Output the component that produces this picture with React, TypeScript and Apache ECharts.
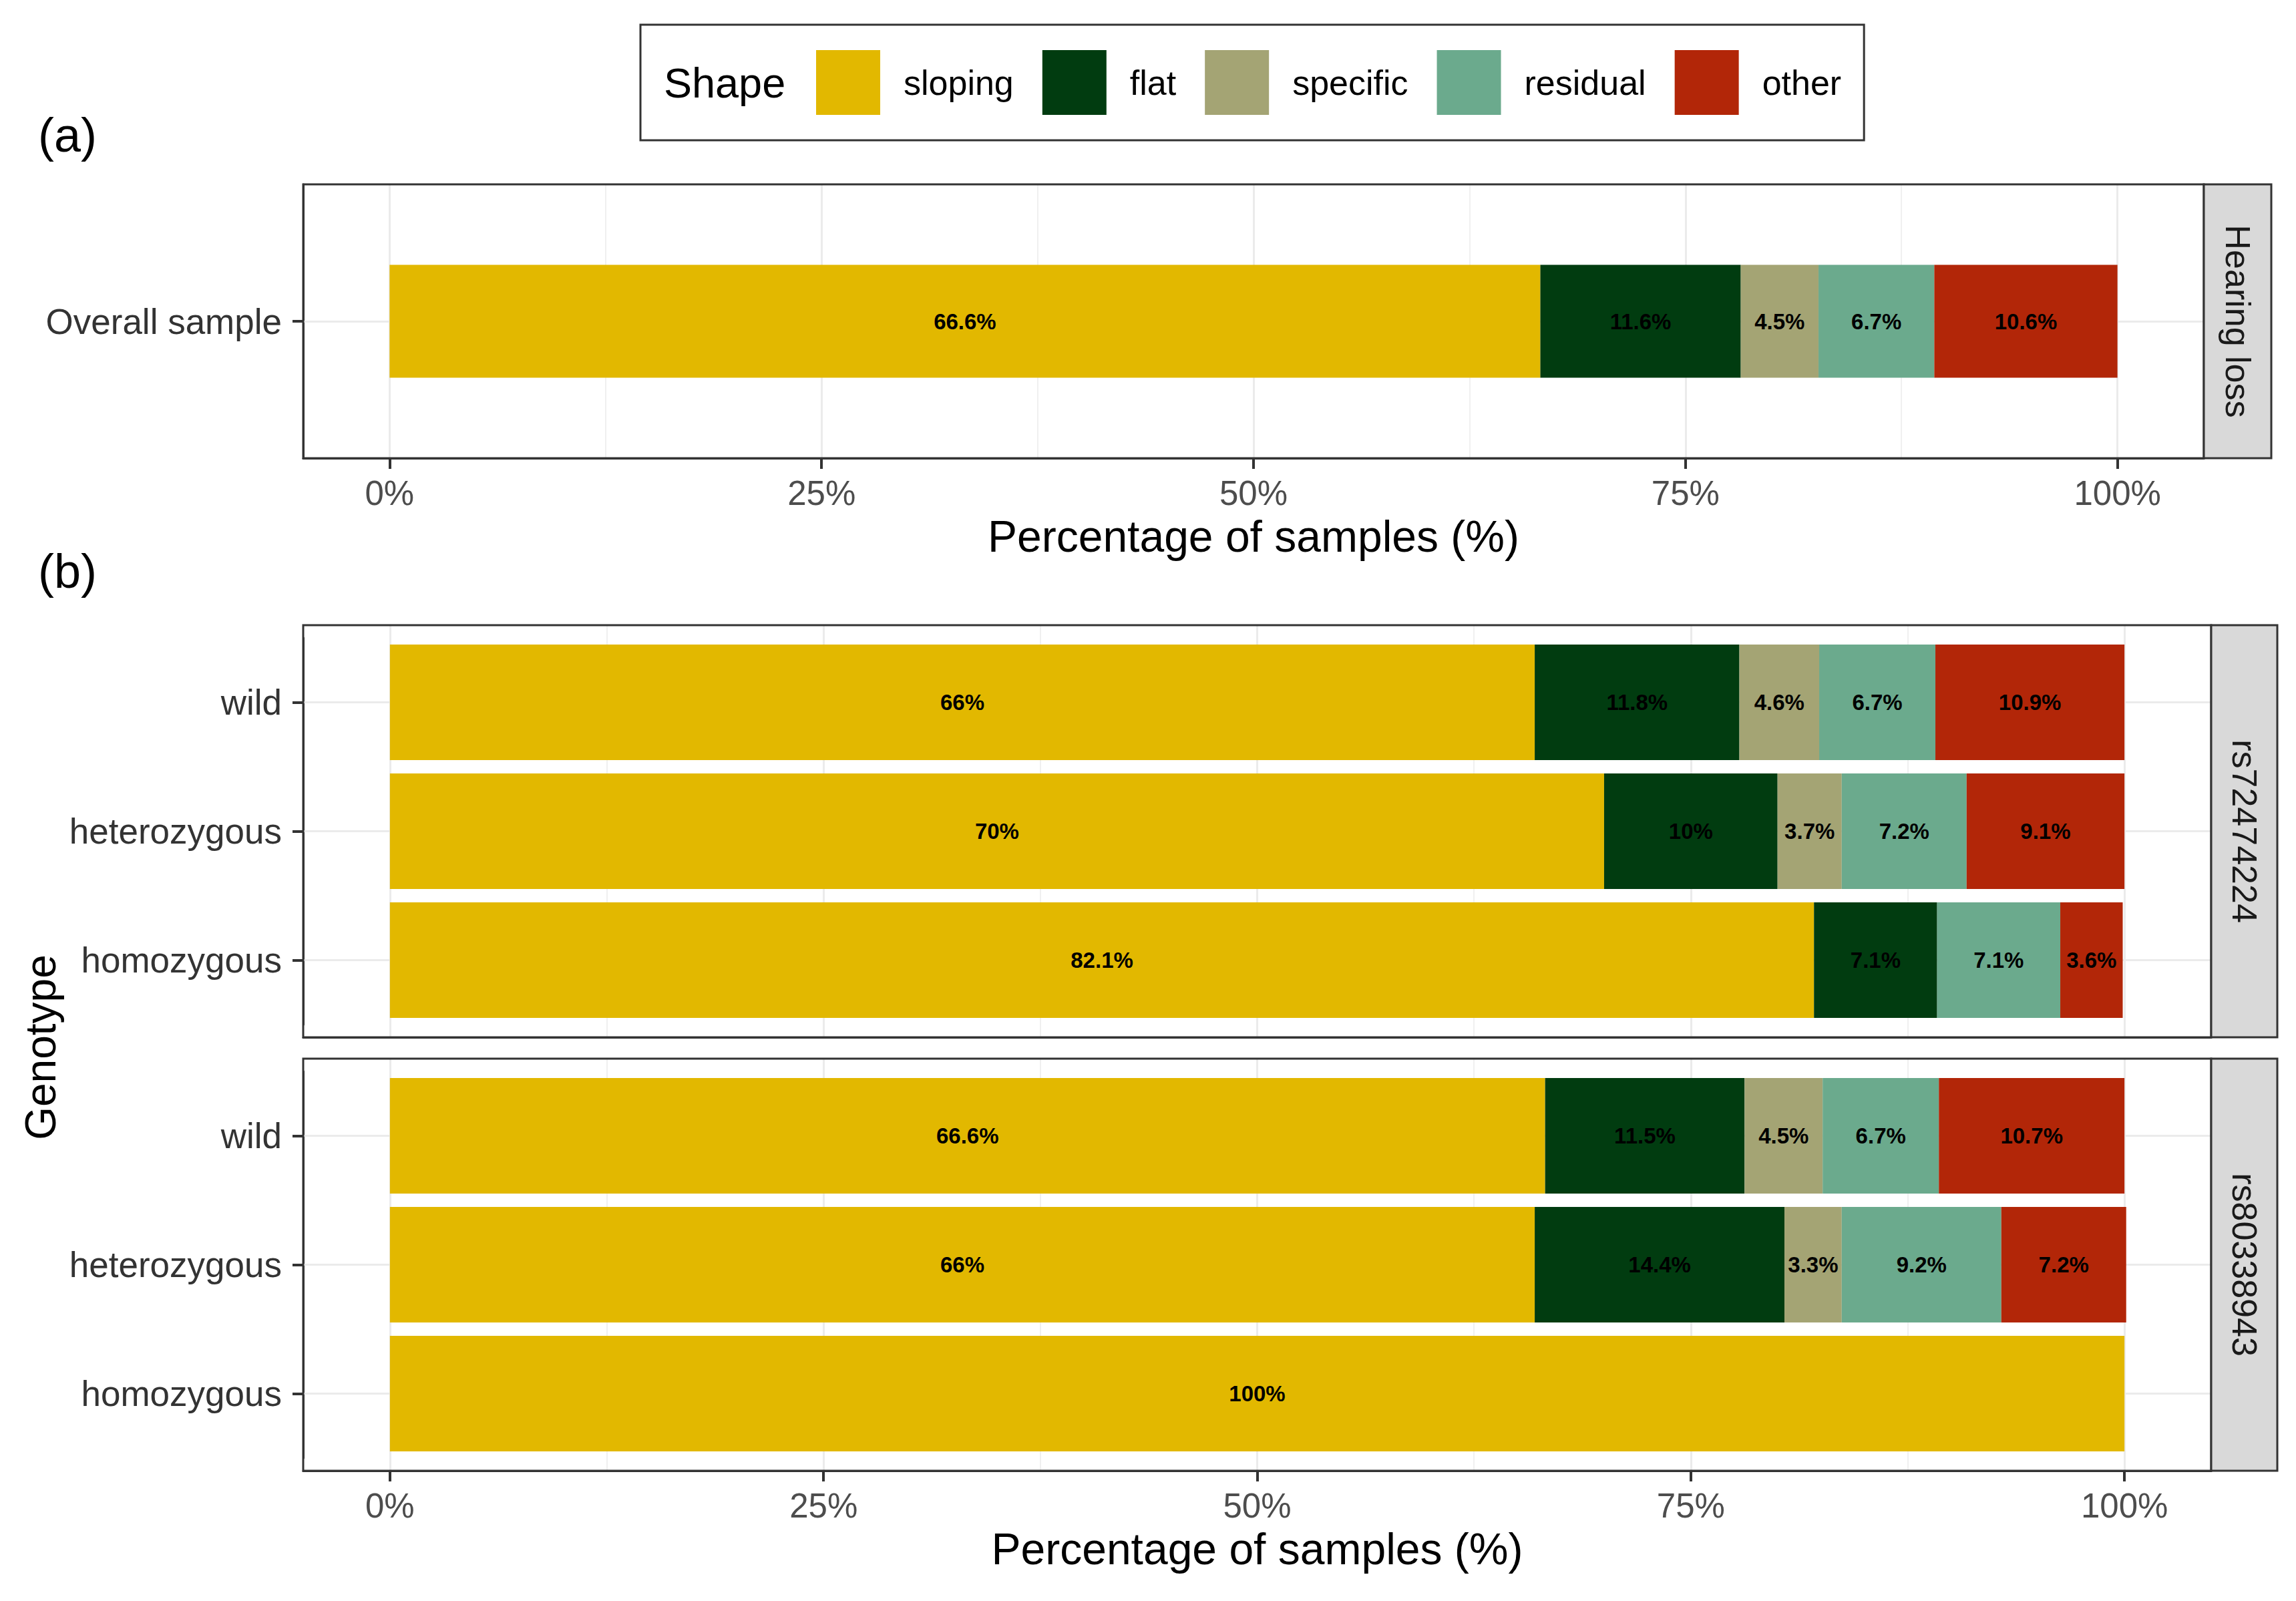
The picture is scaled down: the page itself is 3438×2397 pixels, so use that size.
import React, { useEffect, useRef } from "react";
import * as echarts from "echarts";

const FONT = "'Liberation Sans', Arial, sans-serif";

const SHAPES = ["sloping", "flat", "specific", "residual", "other"];
const COLORS = ["#E2B800", "#013C10", "#A4A474", "#6BAA8D", "#B22608"];

const OVERALL_CATS = ["Overall sample"];
const GENO_CATS = ["wild", "heterozygous", "homozygous"];

// values per shape (rows follow SHAPES), columns follow categories
const overallData = [[66.6], [11.6], [4.5], [6.7], [10.6]];
const rs72474224Data = [
  [66, 70, 82.1],
  [11.8, 10, 7.1],
  [4.6, 3.7, 0],
  [6.7, 7.2, 7.1],
  [10.9, 9.1, 3.6],
];
const rs80338943Data = [
  [66.6, 66, 100],
  [11.5, 14.4, 0],
  [4.5, 3.3, 0],
  [6.7, 9.2, 0],
  [10.7, 7.2, 0],
];

const X_TICKS = [0, 25, 50, 75, 100];
const X_MINOR = [12.5, 37.5, 62.5, 87.5];
const STRIPS = ["Hearing loss", "rs72474224", "rs80338943"];
const X_TITLE = "Percentage of samples (%)";
const Y_TITLE = "Genotype";

export default function App() {
  const ref = useRef<HTMLDivElement>(null);

  useEffect(() => {
    document.body.style.margin = "0";
    const chart = echarts.init(ref.current!, null, { renderer: "svg" });

    // panel rectangles (outer frames)
    const panels = [
      { left: 454, top: 276, width: 2846, height: 410 },
      { left: 454, top: 936, width: 2857, height: 617 },
      { left: 454, top: 1585, width: 2857, height: 617 },
    ];
    // bar grids (ggplot discrete expansion: 0.6 units each side)
    const barGrids = [
      { left: 454, top: 276, width: 2846, height: 410 },
      { left: 454, top: 955, width: 2857, height: 579 },
      { left: 454, top: 1604, width: 2857, height: 579 },
    ];
    const panelCats = [OVERALL_CATS, GENO_CATS, GENO_CATS];
    const panelData = [overallData, rs72474224Data, rs80338943Data];
    const barWidths = [169, 173, 173];
    const showX = [true, false, true];

    const grids: any[] = [];
    barGrids.forEach((g) => grids.push({ ...g, show: false, containLabel: false }));
    panels.forEach((g) => grids.push({ ...g, show: false, containLabel: false }));

    const xAxes: any[] = [];
    const yAxes: any[] = [];
    // bar x axes (hidden)
    for (let k = 0; k < 3; k++) {
      xAxes.push({ type: "value", gridIndex: k, min: -5, max: 105, show: false });
    }
    // background major x axes
    for (let k = 0; k < 3; k++) {
      xAxes.push({
        type: "value",
        gridIndex: 3 + k,
        min: -5,
        max: 105,
        position: "bottom",
        axisLine: { show: true, onZero: false, lineStyle: { color: "#333333", width: 3 } },
        axisTick: {
          show: showX[k],
          customValues: X_TICKS,
          length: 16,
          lineStyle: { color: "#333333", width: 4 },
        },
        axisLabel: {
          show: showX[k],
          customValues: X_TICKS,
          formatter: (v: number) => v + "%",
          fontSize: 51,
          color: "#4D4D4D",
          margin: 27,
          fontFamily: FONT,
        },
        splitLine: { show: true, lineStyle: { color: "#EBEBEB", width: 3 } },
        name: showX[k] ? X_TITLE : "",
        nameLocation: "middle",
        nameGap: 84,
        nameTextStyle: { fontSize: 66, color: "#000", fontFamily: FONT },
      });
    }
    // background minor x axes
    for (let k = 0; k < 3; k++) {
      xAxes.push({
        type: "value",
        gridIndex: 3 + k,
        min: -5,
        max: 105,
        position: "bottom",
        axisLine: { show: false, onZero: false },
        axisTick: { show: false, customValues: X_MINOR },
        axisLabel: { show: false, customValues: X_MINOR },
        splitLine: { show: true, lineStyle: { color: "#F0F0F0", width: 2 } },
      });
    }
    for (let k = 0; k < 3; k++) {
      yAxes.push({
        type: "category",
        gridIndex: k,
        data: panelCats[k],
        inverse: true,
        position: "left",
        axisLine: { show: true, onZero: false, lineStyle: { color: "#333333", width: 3 } },
        axisTick: {
          show: true,
          alignWithLabel: true,
          length: 16,
          lineStyle: { color: "#333333", width: 4 },
        },
        axisLabel: { fontSize: 53, color: "#333333", margin: 32, fontFamily: FONT },
        splitLine: { show: false },
      });
    }
    for (let k = 0; k < 3; k++) {
      yAxes.push({ type: "value", gridIndex: 3 + k, min: 0, max: 1, show: false });
    }

    const series: any[] = [];
    for (let k = 0; k < 3; k++) {
      SHAPES.forEach((s, i) => {
        series.push({
          type: "bar",
          name: s,
          xAxisIndex: k,
          yAxisIndex: k,
          stack: "panel" + k,
          data: panelData[k][i],
          barWidth: barWidths[k],
          z: 3,
          itemStyle: { color: COLORS[i] },
          label: {
            show: true,
            position: "inside",
            formatter: (p: any) => (p.value > 0 ? p.value + "%" : ""),
            fontSize: 33,
            fontWeight: "bold",
            color: "#000",
            fontFamily: FONT,
          },
          markLine:
            i === 0
              ? {
                  silent: true,
                  z: 1,
                  symbol: ["none", "none"],
                  label: { show: false },
                  lineStyle: { color: "#EBEBEB", width: 3, type: "solid" },
                  emphasis: { disabled: true },
                  data: panelCats[k].map((c) => ({ yAxis: c })),
                }
              : undefined,
        });
      });
    }

    const graphic: any[] = [];
    panels.forEach((p, k) => {
      graphic.push({
        type: "rect",
        z: 20,
        shape: { x: p.left, y: p.top, width: p.width, height: p.height },
        style: { fill: "none", stroke: "#333333", lineWidth: 3 },
        silent: true,
      });
      const sx = p.left + p.width;
      const sw = k === 0 ? 101 : 99;
      graphic.push({
        type: "rect",
        z: 20,
        shape: { x: sx, y: p.top, width: sw, height: p.height },
        style: { fill: "#D9D9D9", stroke: "#333333", lineWidth: 3 },
        silent: true,
      });
      graphic.push({
        type: "text",
        z: 21,
        x: sx + sw / 2,
        y: p.top + p.height / 2,
        rotation: -Math.PI / 2,
        style: {
          text: STRIPS[k],
          fontSize: 52,
          fill: "#1A1A1A",
          fontFamily: FONT,
          align: "center",
          verticalAlign: "middle",
        },
      });
    });
    graphic.push({
      type: "text",
      z: 21,
      x: 57,
      y: 202,
      style: { text: "(a)", fontSize: 72, fill: "#000", fontFamily: FONT, align: "left", verticalAlign: "middle" },
    });
    graphic.push({
      type: "text",
      z: 21,
      x: 57,
      y: 855,
      style: { text: "(b)", fontSize: 72, fill: "#000", fontFamily: FONT, align: "left", verticalAlign: "middle" },
    });
    graphic.push({
      type: "text",
      z: 21,
      x: 61,
      y: 1568,
      rotation: Math.PI / 2,
      style: { text: Y_TITLE, fontSize: 64, fill: "#000", fontFamily: FONT, align: "center", verticalAlign: "middle" },
    });
    graphic.push({
      type: "text",
      z: 21,
      x: 994,
      y: 124,
      style: { text: "Shape", fontSize: 63, fill: "#000", fontFamily: FONT, align: "left", verticalAlign: "middle" },
    });

    chart.setOption({
      animation: false,
      backgroundColor: "#FFFFFF",
      textStyle: { fontFamily: FONT },
      legend: {
        data: SHAPES,
        left: 959,
        top: 37,
        orient: "horizontal",
        selectedMode: false,
        icon: "rect",
        itemWidth: 96,
        itemHeight: 97,
        itemGap: 43,
        padding: [38, 34, 38, 263],
        borderColor: "#333333",
        borderWidth: 3,
        textStyle: { fontSize: 52, color: "#000", fontFamily: FONT, padding: [0, 0, 0, 30] },
      },
      grid: grids,
      xAxis: xAxes,
      yAxis: yAxes,
      series,
      graphic,
    });

    return () => chart.dispose();
  }, []);

  return <div ref={ref} style={{ width: 3438, height: 2397 }} />;
}
